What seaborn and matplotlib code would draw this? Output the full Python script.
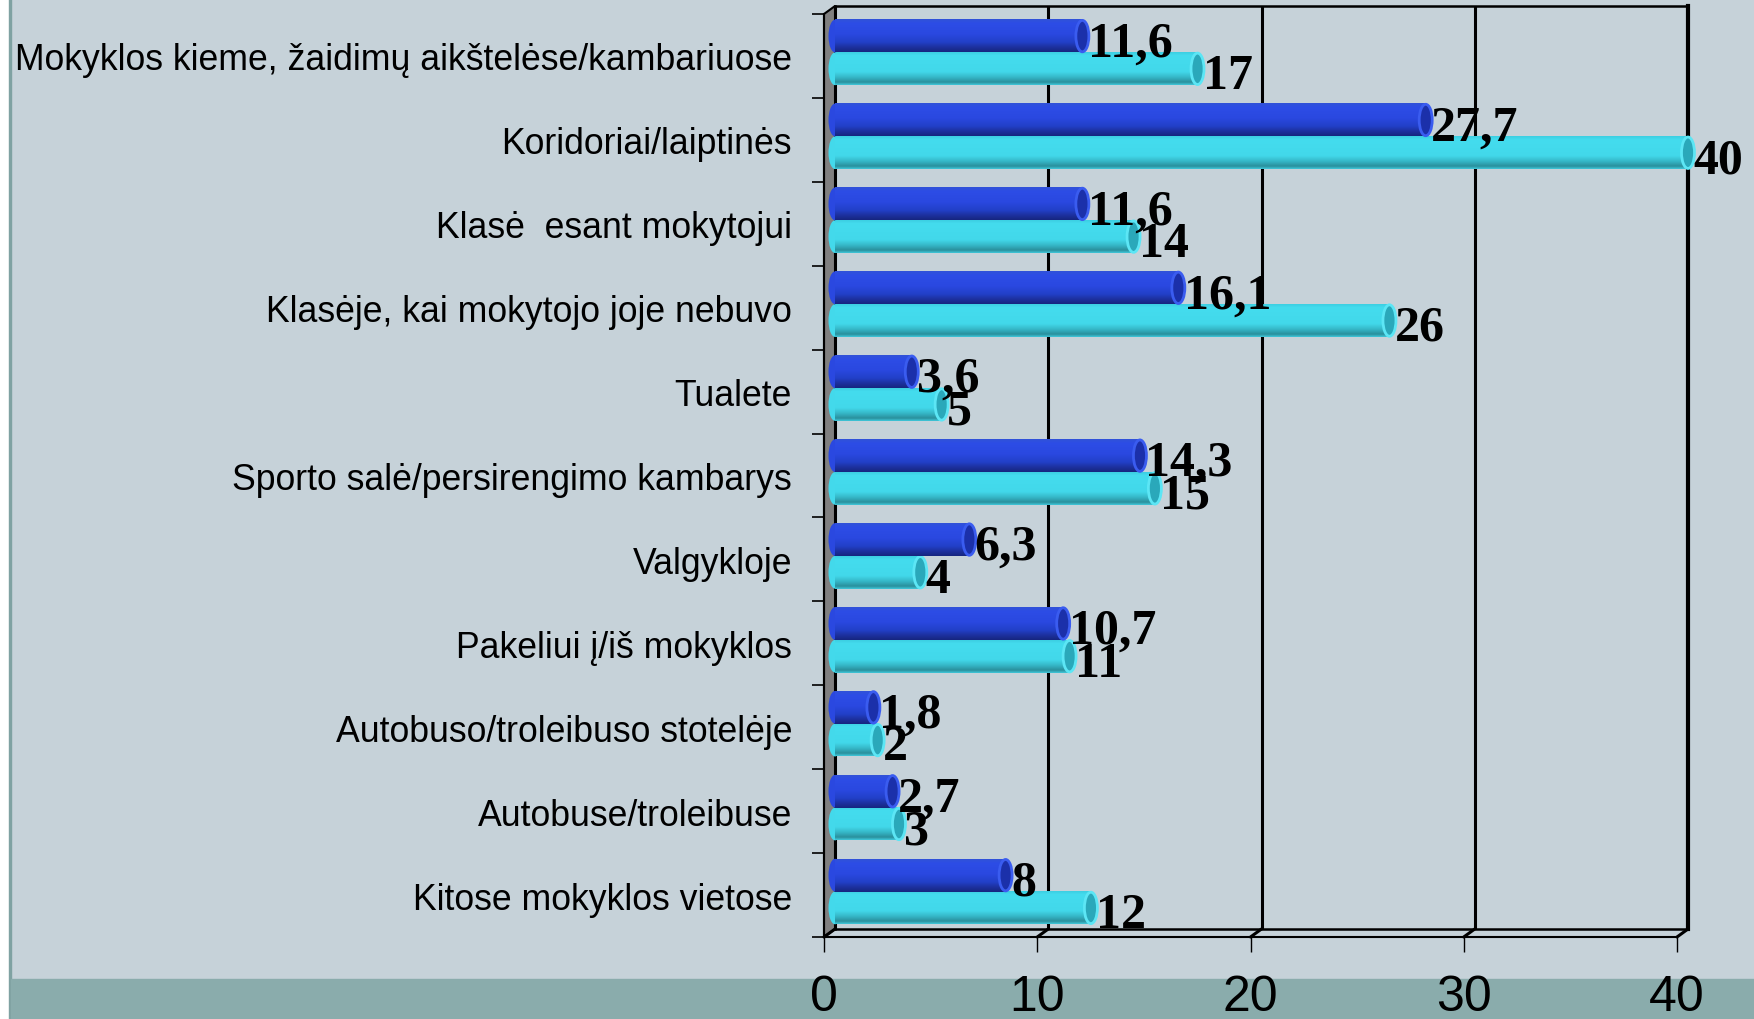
import numpy as np
import pandas as pd
import matplotlib
matplotlib.use('Agg')
import matplotlib.pyplot as plt
from matplotlib.colors import LinearSegmentedColormap
from matplotlib.patches import Ellipse, Rectangle, Polygon
import seaborn as sns

# data
categories = [
    "Mokyklos kieme, žaidimų aikštelėse/kambariuose",
    "Koridoriai/laiptinės",
    "Klasė  esant mokytojui",
    "Klasėje, kai mokytojo joje nebuvo",
    "Tualete",
    "Sporto salė/persirengimo kambarys",
    "Valgykloje",
    "Pakeliui į/iš mokyklos",
    "Autobuso/troleibuso stotelėje",
    "Autobuse/troleibuse",
    "Kitose mokyklos vietose",
]
series_names = ["A", "B"]
dark_values = [11.6, 27.7, 11.6, 16.1, 3.6, 14.3, 6.3, 10.7, 1.8, 2.7, 8]
light_values = [17, 40, 14, 26, 5, 15, 4, 11, 2, 3, 12]
x_ticks = [0, 10, 20, 30, 40]

BG = "#c6d2d9"
BAND = "#8aacac"
DARK = "#2946dc"
LIGHT = "#44d8ec"

sns.set_theme(style="white")
plt.rcParams["font.family"] = ["Liberation Sans", "DejaVu Sans"]

W, H, DPI = 1754, 1020, 100
fig = plt.figure(figsize=(W / DPI, H / DPI), dpi=DPI, facecolor=BG)

# slide decorations: white margin, thin border, teal band at the bottom
for r in [Rectangle((0, 0), 9 / W, 1, color="white"),
          Rectangle((9 / W, 0), 2 / W, 1, color="#7fa2a2"),
          Rectangle((11 / W, 0), 1, 40 / H, color=BAND)]:
    r.set_transform(fig.transFigure)
    r.set_zorder(-5)
    fig.patches.append(r)

# 3D look: front plane (axes, labels) and back wall (grid, bars), offset by DX/DY px
DX, DY = 11, 8
AW, AH = 853, 923
ax_front = fig.add_axes([(835 - DX) / W, (90 - DY) / H, AW / W, AH / H])
ax = fig.add_axes([835 / W, 90 / H, AW / W, AH / H])
for a in (ax_front, ax):
    a.set_facecolor("none")
    a.set_xlim(0, 40)

# ---- front plane ----
ax_front.set_ylim(len(categories) - 0.5, -0.5)
for s in ["top", "right"]:
    ax_front.spines[s].set_visible(False)
for s in ["left", "bottom"]:
    ax_front.spines[s].set_color("black")
    ax_front.spines[s].set_linewidth(1.5)
ax_front.set_yticks(range(len(categories)), labels=categories)
ax_front.set_yticks(np.arange(-0.5, len(categories), 1), minor=True)
ax_front.tick_params(axis="y", which="major", length=0, pad=23, labelsize=25.7, labelcolor="black")
ax_front.tick_params(axis="y", which="minor", length=8.5, width=1.2, color="black", direction="out", left=True)
ax_front.set_xticks(x_ticks)
ax_front.tick_params(axis="x", length=11, width=1, color="black", direction="out", bottom=True,
                     pad=16, labelsize=36, labelcolor="black")
for lab in ax_front.get_xticklabels():
    lab.set_family(["Liberation Sans Narrow", "Liberation Sans", "DejaVu Sans"])

dxa, dya = DX / AW, DY / AH
wall = Polygon([(0, 0), (0, 1), (dxa, 1 + dya), (dxa, dya)], closed=True,
               transform=ax_front.transAxes, facecolor="#808080", edgecolor="black",
               lw=1.5, clip_on=False, zorder=1)
ax_front.add_patch(wall)
dx_data = 40 * DX / AW
for t in x_ticks:
    ax_front.plot([t, t + dx_data], [0, dya], transform=ax_front.get_xaxis_transform(),
                  color="black", lw=2.2, clip_on=False)

# ---- back wall with bars ----
df = pd.DataFrame({
    "category": categories * 2,
    "series": [series_names[0]] * len(categories) + [series_names[1]] * len(categories),
    "value": dark_values + light_values,
})
sns.barplot(data=df, y="category", x="value", hue="series", order=categories,
            hue_order=series_names, palette=[DARK, LIGHT], orient="h", width=0.78,
            ax=ax, legend=False, saturation=1, edgecolor="none", zorder=3)

ax.set_xticks(x_ticks)
ax.set_yticks([])
ax.tick_params(axis="x", length=0, labelbottom=False)
ax.set_xlabel("")
ax.set_ylabel("")
ax.grid(axis="x", color="black", lw=2.2)
ax.grid(axis="y", visible=False)
ax.set_axisbelow(True)
for s in ["top", "bottom", "left"]:
    ax.spines[s].set_color("black")
    ax.spines[s].set_linewidth(1.8)
ax.spines["right"].set_color("black")
ax.spines["right"].set_linewidth(3)

# cylinder shading, top to bottom
cmap_dark = LinearSegmentedColormap.from_list("dk", [(0, "#3152d8"), (0.12, "#2d4de6"), (0.45, "#2a48e0"),
                                                      (0.7, "#2240c8"), (0.88, "#1c2f9a"), (1, "#162680")])
cmap_light = LinearSegmentedColormap.from_list("lt", [(0, "#3ccfe2"), (0.1, "#44dcee"), (0.6, "#42d8ea"),
                                                       (0.78, "#35b5c5"), (0.92, "#2a8f9c"), (1, "#3fc6d8")])
caps = [("#1b30aa", "#3a5cf0"), ("#2aa8ba", "#5ce6f5")]
grad = np.linspace(0, 1, 64).reshape(-1, 1)
cap_w = 13 * 40 / AW
px_y = len(categories) / AH

label_font = ["Liberation Serif", "DejaVu Serif"]
for i, (cont, vals, cmap) in enumerate(zip(ax.containers, [dark_values, light_values], [cmap_dark, cmap_light])):
    cap_face, cap_edge = caps[i]
    z = 5 if i == 0 else 4
    for patch, v in zip(cont.patches, vals):
        x0, y0 = patch.get_x(), patch.get_y()
        w, h = patch.get_width(), patch.get_height()
        patch.set_zorder(z)
        ax.add_patch(Ellipse((x0, y0 + h / 2), cap_w, h, facecolor=cmap(0.45), edgecolor="none",
                             zorder=z, clip_on=False))
        ax.imshow(grad, extent=[x0, x0 + w, y0 + h, y0], aspect="auto", cmap=cmap,
                  zorder=z, clip_path=patch, interpolation="bilinear")
        ax.add_patch(Ellipse((x0 + w, y0 + h / 2), cap_w, h * 0.96, facecolor=cap_face,
                             edgecolor=cap_edge, lw=2, zorder=z + 0.1, clip_on=False))
        txt = f"{v:g}".replace(".", ",")
        ax.text(x0 + w + 0.25, y0 + h + 3 * px_y, txt, ha="left", va="baseline",
                fontsize=36, fontweight="bold", family=label_font, color="black", zorder=6)

shift = 4.5 * px_y
ax.set_xlim(0, 40)
ax.set_ylim(len(categories) - 0.5 - shift, -0.5 - shift)

fig.savefig("out.png", dpi=DPI, facecolor=BG)
